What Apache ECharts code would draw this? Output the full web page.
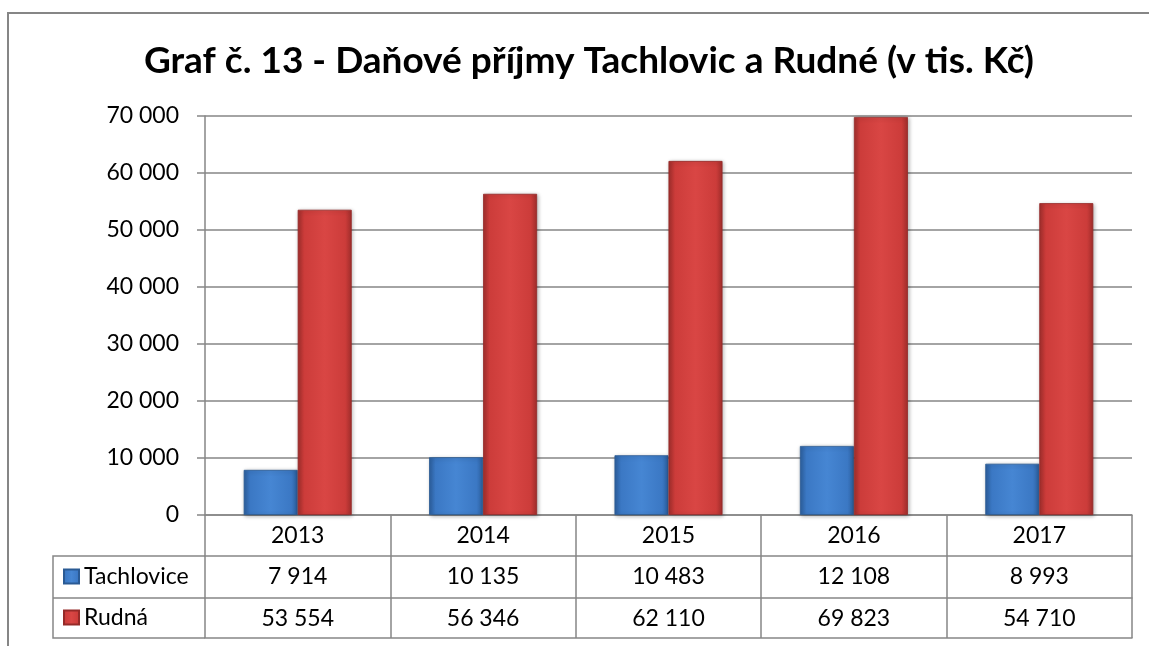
<!DOCTYPE html>
<html lang="cs">
<head>
    <meta charset="UTF-8">
    <title>Graf č. 13</title>
    <script src="https://cdn.jsdelivr.net/npm/echarts@6/dist/echarts.min.js"></script>
    <style>
        html, body { margin: 0; padding: 0; background: #fff; }
        #chart { width: 1149px; height: 646px; }
    </style>
</head>
<body>
<div id="chart"></div>
<script>
    var years = ['2013', '2014', '2015', '2016', '2017'];
    var tachlovice = [7914, 10135, 10483, 12108, 8993];
    var rudna = [53554, 56346, 62110, 69823, 54710];
    var seriesNames = ['Tachlovice', 'Rudná'];

    var FONT = 'Lato';
    var FS = 23;
    var GRAY = '#868686';
    // plot area (px)
    var gLeft = 205, gTop = 116, gRight = 1132, gBottom = 515;
    var rowH = [41, 42, 40];
    var tableLeft = 53;

    function fmt(v) {
        return String(v).replace(/\B(?=(\d{3})+(?!\d))/g, ' ');
    }

    function barColor(dark, mid, light) {
        return new echarts.graphic.LinearGradient(0, 0, 1, 0, [
            {offset: 0, color: dark},
            {offset: 0.12, color: mid},
            {offset: 0.5, color: light},
            {offset: 0.88, color: mid},
            {offset: 1, color: dark}
        ]);
    }
    var blue = barColor('#2c5f9e', '#3b78c4', '#4686d3');
    var red = barColor('#a22e2c', '#cc3c3a', '#d94644');

    var rowTop1 = gBottom + rowH[0];
    var rowTop2 = rowTop1 + rowH[1];
    var rowTop3 = rowTop2 + rowH[2];

    function tableAxis(labels, offset, tickLen, showLine) {
        return {
            type: 'category',
            position: 'bottom',
            offset: offset,
            data: years,
            axisLine: {show: showLine, lineStyle: {color: GRAY, width: 1.5}},
            axisTick: {show: tickLen > 0, length: tickLen, interval: 0, lineStyle: {color: GRAY, width: 1.5}},
            axisLabel: {
                show: labels !== null,
                interval: 0,
                margin: 9,
                fontFamily: FONT,
                fontSize: FS,
                color: '#000',
                formatter: function (val, idx) { return labels ? labels[idx] : ''; }
            },
            splitLine: {show: false}
        };
    }

    var chart = echarts.init(document.getElementById('chart'));
    var option = {
        animation: false,
        title: {
            text: 'Graf č. 13 - Daňové příjmy Tachlovic a Rudné (v tis. Kč)',
            left: 584,
            textAlign: 'center',
            top: 38,
            textStyle: {fontFamily: FONT, fontSize: 37, fontWeight: 'bold', color: '#000'}
        },
        legend: {
            orient: 'vertical',
            left: 63,
            top: rowTop1 + 9,
            padding: 0,
            icon: 'rect',
            itemWidth: 15,
            itemHeight: 14,
            itemGap: 41 - FS,
            data: seriesNames,
            textStyle: {fontFamily: FONT, fontSize: FS, color: '#000', lineHeight: FS}
        },
        grid: {
            left: gLeft,
            top: gTop,
            width: gRight - gLeft,
            height: gBottom - gTop,
            containLabel: false
        },
        xAxis: [
            tableAxis(years, 0, rowH[0], true),
            tableAxis(tachlovice.map(fmt), rowH[0], rowH[1], true),
            tableAxis(rudna.map(fmt), rowH[0] + rowH[1], rowH[2], true),
            tableAxis(null, rowH[0] + rowH[1] + rowH[2], 0, true)
        ],
        yAxis: {
            type: 'value',
            min: 0,
            max: 70000,
            interval: 10000,
            axisLine: {show: true, lineStyle: {color: GRAY, width: 1.5}},
            axisTick: {show: true, length: 8, lineStyle: {color: GRAY, width: 1.5}},
            splitLine: {show: true, lineStyle: {color: GRAY, width: 1.5}},
            axisLabel: {
                margin: 26,
                fontFamily: FONT,
                fontSize: FS,
                color: '#000',
                formatter: function (v) { return fmt(v); }
            }
        },
        series: [
            {
                name: seriesNames[0],
                type: 'bar',
                xAxisIndex: 0,
                data: tachlovice,
                barWidth: 54,
                barGap: '0%',
                itemStyle: {color: blue, borderColor: '#2a5a94', borderWidth: 0.8,
                    shadowColor: 'rgba(0,0,0,0.3)', shadowBlur: 4, shadowOffsetX: 1, shadowOffsetY: 1}
            },
            {
                name: seriesNames[1],
                type: 'bar',
                xAxisIndex: 0,
                data: rudna,
                barWidth: 54,
                barGap: '0%',
                itemStyle: {color: red, borderColor: '#952a28', borderWidth: 0.8,
                    shadowColor: 'rgba(0,0,0,0.3)', shadowBlur: 4, shadowOffsetX: 1, shadowOffsetY: 1}
            }
        ],
        graphic: [
            // outer chart border (cut off at bottom and right)
            {type: 'polyline', silent: true, z: -1,
                shape: {points: [[8, 700], [8, 13], [1149, 13]]},
                style: {stroke: GRAY, lineWidth: 2, fill: null}},
            // legend column of the data table
            {type: 'polyline', silent: true,
                shape: {points: [[gLeft, rowTop1], [tableLeft, rowTop1], [tableLeft, rowTop3], [gLeft, rowTop3]]},
                style: {stroke: GRAY, lineWidth: 1.5, fill: null}},
            {type: 'line', silent: true,
                shape: {x1: tableLeft, y1: rowTop2, x2: gLeft, y2: rowTop2},
                style: {stroke: GRAY, lineWidth: 1.5}}
        ]
    };
    chart.setOption(option);
</script>
</body>
</html>
